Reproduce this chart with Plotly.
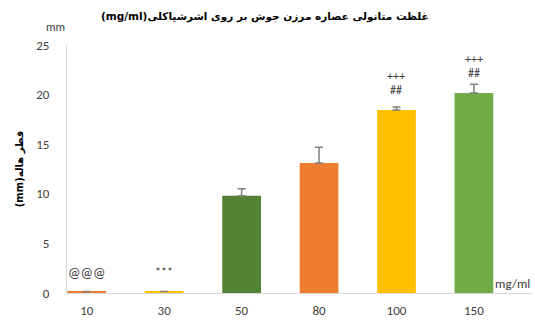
import plotly.graph_objects as go

categories = ["10", "30", "50", "80", "100", "150"]
values = [0.15, 0.15, 9.8, 13.1, 18.45, 20.15]
errors = [0.0, 0.0, 0.7, 1.6, 0.3, 0.9]
colors = ["#ED7D31", "#FFC000", "#548235", "#ED7D31", "#FFC000", "#70AD47"]
marks_low = ["@@@", "***", "", "", "##", "##"]
marks_high = ["", "", "", "", "+++", "+++"]
y_ticks = [0, 5, 10, 15, 20, 25]

fig = go.Figure()
fig.add_trace(go.Bar(
    x=categories, y=values,
    marker=dict(color=colors, line=dict(width=0)),
    error_y=dict(type="data", array=errors, symmetric=False, arrayminus=[0]*6,
                 color="#7F7F7F", thickness=1.5, width=4),
    width=0.5,
))

for i, (v, lo, hi) in enumerate(zip(values, marks_low, marks_high)):
    if lo:
        big = lo == "@@@"
        fig.add_annotation(x=i, y=v, yshift=19 if big else 20, text=lo, showarrow=False,
                           yanchor="middle", font=dict(size=14 if big else 12, color="#404040"))
    if hi:
        fig.add_annotation(x=i, y=v, yshift=34, text=hi, showarrow=False,
                           yanchor="middle", font=dict(size=12, color="#404040"))

fig.add_annotation(xref="paper", yref="paper", x=0.0, y=1.0, yshift=9,
                   text="mm", showarrow=False, xanchor="right", yanchor="bottom",
                   font=dict(size=12, color="#404040"))
fig.add_annotation(xref="paper", yref="paper", x=1.0, y=0.0, yshift=0,
                   text="mg/ml", showarrow=False, xanchor="right", yanchor="bottom",
                   font=dict(size=13, color="#404040"))

fig.update_layout(
    width=535, height=324,
    margin=dict(l=67, r=3, t=45, b=31),
    plot_bgcolor="white", paper_bgcolor="white",
    showlegend=False,
    font=dict(family="Carlito, Calibri, Liberation Sans, DejaVu Sans", color="#404040"),
    title=dict(text="<b>(mg/ml)غلظت متانولی عصاره مرزن جوش بر روی اشرشیاکلی</b>",
               x=0.495, xanchor="center", y=0.95, yanchor="middle",
               font=dict(family="DejaVu Sans", size=10.5, color="#000000")),
    xaxis=dict(type="category", range=[-0.255, 5.75], showline=True, linecolor="#D9D9D9",
               linewidth=1, ticks="", ticklabelstandoff=5,
               tickfont=dict(size=13, color="#404040"), showgrid=False),
    yaxis=dict(range=[0, 25], tickvals=y_ticks, showline=True, linecolor="#D9D9D9",
               linewidth=1, showgrid=False, zeroline=False, ticks="", ticklabelstandoff=14,
               tickfont=dict(size=13, color="#404040"),
               title=dict(text="<b>(mm)قطر هاله</b>", standoff=10,
                          font=dict(family="DejaVu Sans", size=10, color="#000000"))),
)

fig.write_html("out.html")
